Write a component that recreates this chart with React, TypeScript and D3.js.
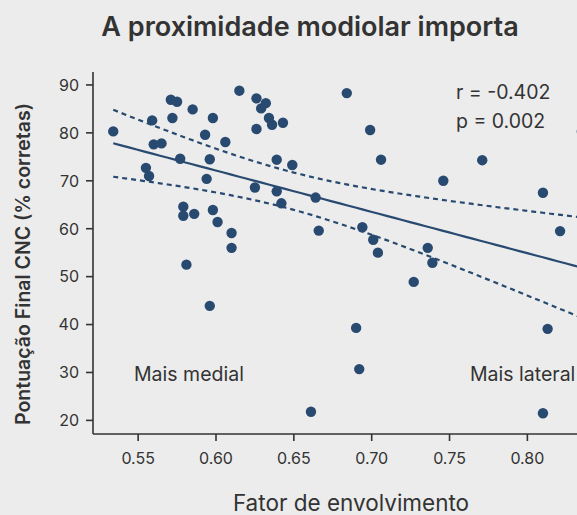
import * as d3 from "d3";

// fator de envolvimento (x) e pontuação CNC (y)
const fatorEnvolvimento = [
  0.534, 0.559, 0.571, 0.575, 0.585, 0.572, 0.598, 0.56, 0.565, 0.593,
  0.606, 0.577, 0.596, 0.555, 0.557, 0.594, 0.615, 0.626, 0.626, 0.625,
  0.579, 0.579, 0.586, 0.598, 0.601, 0.61, 0.61, 0.581, 0.596, 0.632,
  0.629, 0.634, 0.636, 0.643, 0.684, 0.699, 0.706, 0.639, 0.649, 0.639,
  0.642, 0.664, 0.666, 0.694, 0.701, 0.704, 0.727, 0.69, 0.736, 0.739,
  0.821, 0.813, 0.771, 0.746, 0.81, 0.835, 0.692, 0.81, 0.661,
];
const pontuacaoCNC = [
  80.3, 82.6, 86.9, 86.5, 84.9, 83.1, 83.1, 77.6, 77.8, 79.6,
  78.1, 74.6, 74.5, 72.7, 71.0, 70.4, 88.8, 87.2, 80.8, 68.6,
  64.6, 62.7, 63.1, 63.9, 61.4, 59.1, 56.0, 52.5, 43.9, 86.2,
  85.1, 83.1, 81.7, 82.1, 88.3, 80.6, 74.4, 74.4, 73.3, 67.8,
  65.3, 66.5, 59.6, 60.3, 57.7, 55.0, 48.9, 39.3, 56.0, 52.9,
  59.5, 39.1, 74.3, 70.0, 67.5, 80.3, 30.7, 21.5, 21.8,
];
const xTicks = [0.55, 0.6, 0.65, 0.7, 0.75, 0.8];
const yTicks = [20, 30, 40, 50, 60, 70, 80, 90];
const statLabels = ["r = -0.402", "p = 0.002"];
const tCrit = 2.002;

const W = 577;
const H = 515;
const bg = "#ebeceb";
const ink = "#333333";
const dot = "#294a70";
const font = "Inter, 'Open Sans', sans-serif";

export default function App() {
  const x = d3.scaleLinear().domain([0.521, 0.846]).range([93, 599]);
  const y = d3.scaleLinear().domain([17.16, 92.7]).range([434, 72]);

  // ajuste linear + intervalo de confiança de 95%
  const n = fatorEnvolvimento.length;
  const mx = d3.mean(fatorEnvolvimento)!;
  const my = d3.mean(pontuacaoCNC)!;
  let sxx = 0;
  let sxy = 0;
  fatorEnvolvimento.forEach((v, i) => {
    sxx += (v - mx) ** 2;
    sxy += (v - mx) * (pontuacaoCNC[i] - my);
  });
  const slope = sxy / sxx;
  const intercept = my - slope * mx;
  const sse = d3.sum(fatorEnvolvimento, (v, i) => (pontuacaoCNC[i] - (intercept + slope * v)) ** 2);
  const s = Math.sqrt(sse / (n - 2));
  const [x0, x1] = d3.extent(fatorEnvolvimento) as [number, number];
  const grid = d3.range(0, 61).map((i) => x0 + ((x1 - x0) * i) / 60);
  const fit = (v: number) => intercept + slope * v;
  const half = (v: number) => tCrit * s * Math.sqrt(1 / n + (v - mx) ** 2 / sxx);

  const line = d3
    .line<number[]>()
    .x((d) => x(d[0]))
    .y((d) => y(d[1]));

  return (
    <div style={{ position: "absolute", left: 0, top: 0, width: W, height: H, background: bg }}>
      <svg width={W} height={H} style={{ display: "block", fontFamily: font }}>
        <rect width={W} height={H} fill={bg} />
        <text x={310} y={36} textAnchor="middle" fontSize={27} fontWeight={600} fill={ink}>
          A proximidade modiolar importa
        </text>

        <path d={line(grid.map((v) => [v, fit(v)]))!} fill="none" stroke={dot} strokeWidth={2.2} />
        <path
          d={line(grid.map((v) => [v, fit(v) + half(v)]))!}
          fill="none"
          stroke={dot}
          strokeWidth={2.2}
          strokeDasharray="5,4"
        />
        <path
          d={line(grid.map((v) => [v, fit(v) - half(v)]))!}
          fill="none"
          stroke={dot}
          strokeWidth={2.2}
          strokeDasharray="5,4"
        />

        {fatorEnvolvimento.map((v, i) => (
          <circle key={i} cx={x(v)} cy={y(pontuacaoCNC[i])} r={5.2} fill={dot} />
        ))}

        <g stroke={ink} strokeWidth={1.6}>
          <line x1={x.range()[0]} x2={x.range()[0]} y1={y.range()[1]} y2={y.range()[0]} />
          <line x1={x.range()[0]} x2={x.range()[1]} y1={y.range()[0]} y2={y.range()[0]} />
          {yTicks.map((t) => (
            <line key={t} x1={86} x2={93} y1={y(t)} y2={y(t)} />
          ))}
          {xTicks.map((t) => (
            <line key={t} x1={x(t)} x2={x(t)} y1={434} y2={441} />
          ))}
        </g>
        {yTicks.map((t) => (
          <text key={t} x={79} y={y(t) + 5.8} textAnchor="end" fontSize={16} fill={ink}>
            {t}
          </text>
        ))}
        {xTicks.map((t) => (
          <text key={t} x={x(t)} y={464} textAnchor="middle" fontSize={16} fill={ink}>
            {d3.format(".2f")(t)}
          </text>
        ))}

        {statLabels.map((l, i) => (
          <text key={l} x={456} y={99 + i * 29} fontSize={19.5} fill={ink}>
            {l}
          </text>
        ))}
        <text x={134} y={381} fontSize={19.5} fill={ink}>
          Mais medial
        </text>
        <text x={470} y={381} fontSize={19.5} fill={ink}>
          Mais lateral
        </text>

        <text x={351} y={511} textAnchor="middle" fontSize={22.5} fill={ink}>
          Fator de envolvimento
        </text>
        <text
          transform="translate(30,264) rotate(-90)"
          textAnchor="middle"
          fontSize={19.5}
          fontWeight={600}
          fill={ink}
        >
          Pontuação Final CNC (% corretas)
        </text>
      </svg>
    </div>
  );
}
